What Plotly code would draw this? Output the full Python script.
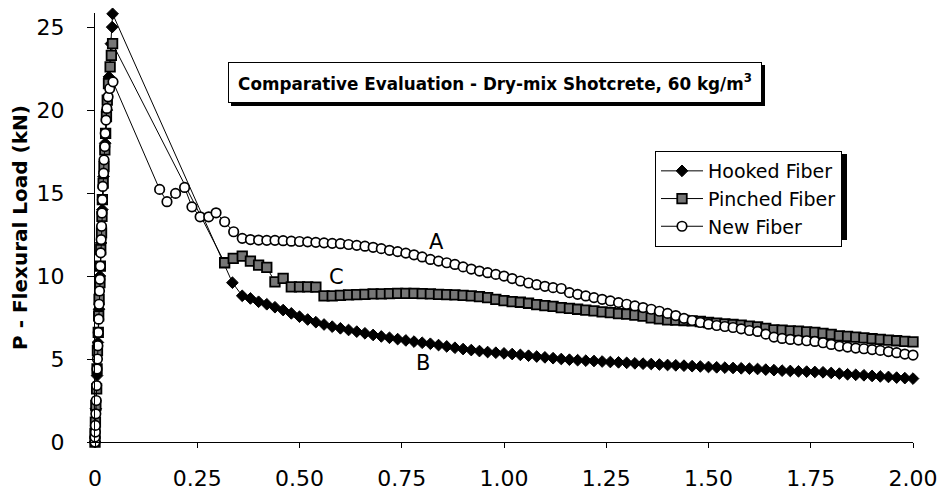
import plotly.graph_objects as go

# ---------------- data ----------------
# Hooked Fiber (filled diamonds)
hooked_head_x = [0.000, 0.002, 0.005, 0.007, 0.010, 0.012, 0.015, 0.018, 0.021, 0.025,
                 0.029, 0.034, 0.039, 0.042, 0.043, 0.336]
hooked_head_y = [0.0, 2.0, 4.0, 6.0, 8.0, 10.0, 12.0, 14.0, 16.0, 18.0,
                 20.0, 22.0, 24.0, 25.0, 25.8, 9.6]

# Pinched Fiber (patterned squares)
pinched_head_x = [0.000, 0.000, 0.001, 0.002, 0.004, 0.005, 0.006, 0.008, 0.009, 0.010,
                  0.012, 0.013, 0.014, 0.016, 0.017, 0.018, 0.020, 0.022, 0.024, 0.026,
                  0.028, 0.030, 0.033, 0.037, 0.040, 0.043, 0.317, 0.338]
pinched_head_y = [0.0, 0.5, 1.2, 2.2, 3.2, 4.4, 5.5, 6.6, 7.6, 8.6,
                  9.6, 10.6, 11.6, 12.6, 13.6, 14.6, 15.6, 16.6, 17.6, 18.6,
                  19.6, 20.6, 21.6, 22.6, 23.3, 24.0, 10.8, 11.06]

# New Fiber (open circles)
new_head_x = [0.000, 0.000, 0.001, 0.001, 0.002, 0.003, 0.004, 0.005, 0.006, 0.007,
              0.008, 0.009, 0.010, 0.011, 0.012, 0.013, 0.014, 0.015, 0.016, 0.017,
              0.018, 0.019, 0.021, 0.022, 0.024, 0.025, 0.027, 0.029, 0.032, 0.036,
              0.044, 0.158, 0.176, 0.197, 0.219, 0.237, 0.257, 0.278, 0.296, 0.317,
              0.339]
new_head_y = [0.0, 0.3, 0.6, 1.0, 1.7, 2.5, 3.4, 4.4, 5.0, 5.8,
              6.6, 7.4, 8.3, 9.1, 9.8, 10.6, 11.4, 12.2, 13.0, 13.8,
              14.6, 15.4, 16.2, 17.0, 17.8, 18.6, 19.4, 20.1, 20.8, 21.3,
              21.7, 15.22, 14.48, 14.98, 15.34, 14.17, 13.57, 13.57, 13.81, 13.27,
              12.67]

# common post-peak sampling positions (mm)
tail_x = [0.36, 0.38, 0.40, 0.42, 0.44, 0.46, 0.48, 0.50, 0.52, 0.54,
          0.56, 0.58, 0.60, 0.62, 0.64, 0.66, 0.68, 0.70, 0.72, 0.74,
          0.76, 0.78, 0.80, 0.82, 0.84, 0.86, 0.88, 0.90, 0.92, 0.94,
          0.96, 0.98, 1.00, 1.02, 1.04, 1.06, 1.08, 1.10, 1.12, 1.14,
          1.16, 1.18, 1.20, 1.22, 1.24, 1.26, 1.28, 1.30, 1.32, 1.34,
          1.36, 1.38, 1.40, 1.42, 1.44, 1.46, 1.48, 1.50, 1.52, 1.54,
          1.56, 1.58, 1.60, 1.62, 1.64, 1.66, 1.68, 1.70, 1.72, 1.74,
          1.76, 1.78, 1.80, 1.82, 1.84, 1.86, 1.88, 1.90, 1.92, 1.94,
          1.96, 1.98, 2.00]

hooked_tail_y = [8.81, 8.65, 8.45, 8.30, 8.12, 7.95, 7.75, 7.55, 7.38, 7.22,
                 7.08, 6.95, 6.85, 6.75, 6.65, 6.55, 6.45, 6.36, 6.28, 6.20,
                 6.12, 6.05, 5.98, 5.92, 5.84, 5.76, 5.68, 5.60, 5.54, 5.48,
                 5.42, 5.38, 5.34, 5.30, 5.25, 5.20, 5.15, 5.10, 5.05, 5.00,
                 4.96, 4.93, 4.90, 4.88, 4.85, 4.82, 4.80, 4.77, 4.74, 4.72,
                 4.70, 4.67, 4.64, 4.62, 4.60, 4.57, 4.55, 4.52, 4.50, 4.48,
                 4.46, 4.44, 4.42, 4.40, 4.36, 4.33, 4.30, 4.28, 4.26, 4.24,
                 4.22, 4.20, 4.16, 4.12, 4.08, 4.05, 4.02, 3.98, 3.95, 3.92,
                 3.88, 3.85, 3.82]

pinched_tail_y = [11.20, 10.90, 10.66, 10.52, 9.65, 9.86, 9.35, 9.35, 9.35, 9.33,
                  8.80, 8.80, 8.83, 8.86, 8.88, 8.90, 8.92, 8.93, 8.94, 8.95,
                  8.95, 8.95, 8.94, 8.93, 8.90, 8.88, 8.86, 8.84, 8.80, 8.76,
                  8.70, 8.60, 8.52, 8.46, 8.42, 8.36, 8.28, 8.22, 8.17, 8.10,
                  8.05, 8.00, 7.95, 7.90, 7.84, 7.80, 7.74, 7.70, 7.65, 7.58,
                  7.48, 7.42, 7.36, 7.34, 7.32, 7.30, 7.26, 7.20, 7.16, 7.12,
                  7.08, 7.04, 6.98, 6.94, 6.85, 6.76, 6.74, 6.70, 6.68, 6.64,
                  6.60, 6.55, 6.48, 6.40, 6.36, 6.32, 6.28, 6.22, 6.18, 6.14,
                  6.10, 6.06, 6.03]

new_tail_y = [12.27, 12.20, 12.17, 12.15, 12.15, 12.13, 12.10, 12.08, 12.06, 12.03,
              12.00, 11.97, 11.95, 11.90, 11.85, 11.80, 11.73, 11.65, 11.55, 11.47,
              11.38, 11.28, 11.15, 11.00, 10.90, 10.80, 10.70, 10.55, 10.42, 10.30,
              10.20, 10.10, 10.00, 9.85, 9.70, 9.58, 9.48, 9.38, 9.30, 9.25,
              9.00, 8.90, 8.80, 8.70, 8.60, 8.50, 8.40, 8.30, 8.20, 8.10,
              8.00, 7.88, 7.75, 7.62, 7.45, 7.32, 7.20, 7.10, 7.02, 6.96,
              6.90, 6.82, 6.72, 6.66, 6.50, 6.32, 6.24, 6.18, 6.14, 6.10,
              6.06, 5.98, 5.88, 5.78, 5.72, 5.66, 5.62, 5.57, 5.52, 5.45,
              5.38, 5.30, 5.24]

series_names = ["Hooked Fiber", "Pinched Fiber", "New Fiber"]
curve_labels = ["A", "B", "C"]
curve_label_x = [0.835, 0.802, 0.591]
curve_label_y = [12.05, 4.75, 9.95]

x_tickvals = [0, 0.25, 0.5, 0.75, 1.0, 1.25, 1.5, 1.75, 2.0]
x_ticktext = ["0", "0.25", "0.50", "0.75", "1.00", "1.25", "1.50", "1.75", "2.00"]
y_tickvals = [0, 5, 10, 15, 20, 25]

title_text = "<b>Comparative Evaluation - Dry-mix Shotcrete, 60 kg/m<sup>3</sup></b>"
y_title = "<b>P - Flexural Load (kN)</b>"

# ---------------- layout geometry ----------------
W, H = 937, 493
L, R, T, B = 95, 913, 13, 442
FONT = "DejaVu Sans"


def px_x(p):
    return (p - L) / (R - L)


def px_y(p):
    return (B - p) / (B - T)


fig = go.Figure()

fig.add_trace(go.Scatter(
    x=hooked_head_x + tail_x, y=hooked_head_y + hooked_tail_y,
    name=series_names[0], mode="lines+markers", cliponaxis=False,
    line=dict(color="black", width=1),
    marker=dict(symbol="diamond", size=9, color="black",
                line=dict(color="black", width=1)),
))
fig.add_trace(go.Scatter(
    x=pinched_head_x + tail_x, y=pinched_head_y + pinched_tail_y,
    name=series_names[1], mode="lines+markers", cliponaxis=False,
    line=dict(color="black", width=1),
    marker=dict(symbol="square", size=9.5, color="#767676",
                line=dict(color="black", width=1.8)),
))
fig.add_trace(go.Scatter(
    x=new_head_x + tail_x, y=new_head_y + new_tail_y,
    name=series_names[2], mode="lines+markers", cliponaxis=False,
    line=dict(color="black", width=1),
    marker=dict(symbol="circle", size=9.5, color="white",
                line=dict(color="black", width=1.7)),
))

annotations = []
for t, xx, yy in zip(curve_labels, curve_label_x, curve_label_y):
    annotations.append(dict(x=xx, y=yy, xref="x", yref="y", text=t,
                            showarrow=False, xanchor="center", yanchor="middle",
                            font=dict(family=FONT, size=21, color="black")))

# title box
annotations.append(dict(
    x=px_x(495), y=px_y(82.5), xref="paper", yref="paper",
    text=title_text, showarrow=False, xanchor="center", yanchor="middle",
    font=dict(family=FONT, size=16.8, color="black"),
    bgcolor="white", bordercolor="black", borderwidth=1, borderpad=4,
    width=524, height=31,
))

shapes = [
    # title box shadow
    dict(type="rect", xref="paper", yref="paper",
         x0=px_x(231), x1=px_x(765), y0=px_y(106), y1=px_y(65),
         fillcolor="black", line=dict(width=0), layer="above"),
    # legend shadow
    dict(type="rect", xref="paper", yref="paper",
         x0=px_x(658), x1=px_x(847), y0=px_y(240), y1=px_y(154),
         fillcolor="black", line=dict(width=0), layer="above"),
]

fig.update_layout(
    width=W, height=H,
    margin=dict(l=L, r=W - R, t=T, b=H - B, pad=0, autoexpand=False),
    paper_bgcolor="white", plot_bgcolor="white",
    font=dict(family=FONT, color="black"),
    showlegend=True,
    legend=dict(x=px_x(655), y=px_y(151), xanchor="left", yanchor="top",
                bgcolor="white", bordercolor="black", borderwidth=1,
                font=dict(family=FONT, size=19, color="black"),
                traceorder="normal", tracegroupgap=1, itemwidth=42),
    xaxis=dict(range=[0, 2.0], tickvals=x_tickvals, ticktext=x_ticktext,
               showgrid=False, zeroline=False, showline=True, linecolor="black",
               linewidth=1, ticks="outside", ticklen=5, tickcolor="black",
               tickfont=dict(family=FONT, size=22, color="black"),
               ticklabelstandoff=12, ticklabeloverflow="allow", automargin=False),
    yaxis=dict(range=[0, 25.85], tickvals=y_tickvals,
               showgrid=False, zeroline=False, showline=True, linecolor="black",
               linewidth=1, ticks="outside", ticklen=7, tickcolor="black",
               tickfont=dict(family=FONT, size=22, color="black"),
               ticklabelstandoff=18, ticklabeloverflow="allow", automargin=False,
               title=dict(text=y_title, font=dict(family=FONT, size=20, color="black"),
                          standoff=3)),
    xaxis2=dict(overlaying="x", anchor="y", range=[0, 2.0], tickvals=x_tickvals,
                showticklabels=False, showgrid=False, zeroline=False, showline=False,
                ticks="inside", ticklen=5, tickcolor="black", side="bottom",
                automargin=False),
    yaxis2=dict(overlaying="y", anchor="x", range=[0, 25.85], tickvals=y_tickvals,
                showticklabels=False, showgrid=False, zeroline=False, showline=False,
                ticks="inside", ticklen=7, tickcolor="black", side="left",
                automargin=False),
    annotations=annotations,
    shapes=shapes,
)

for i, tr in enumerate(fig.data):
    tr.legendgroup = f"g{i}"

fig.write_html("out.html")
